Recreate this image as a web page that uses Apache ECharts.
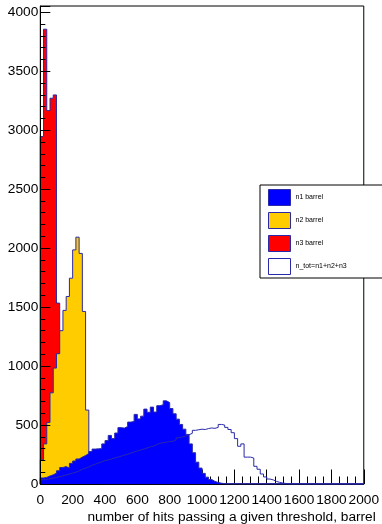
<!DOCTYPE html>
<html>
<head>
<meta charset="utf-8">
<script src="https://cdn.jsdelivr.net/npm/echarts@6/dist/echarts.min.js"></script>
<style>
  html, body { margin: 0; padding: 0; background: #fff; }
  #chart { width: 382px; height: 524px; }
</style>
</head>
<body>
<div id="chart"></div>
<script>
// Histogram binning: 100 bins of width 20 from 0 to 2000
const binWidth = 20;
const xMin = 0;
const xMax = 2000;
const yMax = 4053;

// Bin contents (bins start at 0; bins after the last listed one are empty)
const n1Barrel = [51, 56, 68, 78, 92, 112, 140, 148, 135, 175,
  195, 212, 228, 242, 258, 275, 296, 298, 300, 340,
  368, 412, 385, 432, 478, 474, 488, 525, 530, 590,
  552, 575, 635, 608, 652, 610, 664, 672, 705, 690,
  640, 595, 550, 505, 465, 420, 340, 265, 185, 135,
  90, 58, 38, 22, 13, 7, 3, 1];
const n2Barrel = [206, 340, 522, 773, 983, 1105, 1300, 1472, 1590, 1745,
  1985, 2093, 1955, 1463, 627, 150, 45, 12, 3];
const n3Barrel = [2946, 3856, 3166, 3271, 3299, 1534, 880, 420, 180, 70, 25, 8];
const nTotBarrel = [36, 40, 44, 50, 55, 62, 68, 76, 84, 92,
  100, 110, 125, 135, 145, 158, 168, 178, 188, 198,
  205, 212, 220, 228, 236, 245, 252, 262, 272, 280,
  288, 296, 305, 315, 322, 335, 345, 350, 355, 360,
  362, 375, 392, 400, 405, 418, 430, 455, 460, 465,
  462, 470, 475, 472, 480, 505, 500, 480, 462, 435,
  385, 320, 340, 228, 228, 220, 150, 125, 85, 60,
  42, 35, 22, 14, 8, 4, 2, 1];

// Axis tick labels
const xTickLabels = ['0', '200', '400', '600', '800', '1000', '1200', '1400', '1600', '1800', '2000'];
const yTickLabels = ['0', '500', '1000', '1500', '2000', '2500', '3000', '3500', '4000'];

const seriesNames = ['n1 barrel', 'n2 barrel', 'n3 barrel', 'n_tot=n1+n2+n3'];
const fillColors = ['#0000ff', '#ffcc00', '#ff0000', '#ffffff'];
const outlineColor = '#2a2aa8';
const font = 'Liberation Sans, Arial, Helvetica, sans-serif';
const labelSize = 13.7;

// Turn bin contents into the corner points of a step outline
function histPoints(values) {
  const pts = [[xMin, 0]];
  values.forEach((v, i) => pts.push([xMin + i * binWidth, v]));
  const end = xMin + values.length * binWidth;
  pts.push([end, values[values.length - 1]]);
  pts.push([end, 0]);
  if (end < xMax) pts.push([xMax, 0]);
  return pts;
}

function histSeries(name, values, fill, z) {
  const s = {
    name: name,
    type: 'line',
    step: 'end',
    data: histPoints(values),
    symbol: 'none',
    showSymbol: false,
    z: z,
    lineStyle: { color: outlineColor, width: 1 },
    itemStyle: { color: fill === '#ffffff' ? outlineColor : fill },
    emphasis: { disabled: true },
    silent: true
  };
  if (fill !== '#ffffff') {
    s.areaStyle = { color: fill, opacity: 1 };
  }
  return s;
}

const chart = echarts.init(document.getElementById('chart'), null, { renderer: 'canvas' });

chart.setOption({
  animation: false,
  backgroundColor: '#ffffff',
  grid: {
    left: 40.3, right: 16.3, top: 6, bottom: 39.7,
    show: true, borderColor: '#000', borderWidth: 1, backgroundColor: 'transparent'
  },
  legend: {
    orient: 'vertical',
    left: 260, top: 185,
    padding: [4, 200, 3, 8],
    itemWidth: 22, itemHeight: 16, itemGap: 6,
    backgroundColor: '#ffffff',
    borderColor: '#000', borderWidth: 1,
    selectedMode: false,
    textStyle: { fontSize: 7, fontFamily: font, color: '#000' },
    data: seriesNames.map((n, i) => ({
      name: n,
      icon: 'rect',
      itemStyle: { color: fillColors[i], borderColor: outlineColor, borderWidth: 1 }
    }))
  },
  xAxis: {
    type: 'value', min: xMin, max: xMax, interval: 200,
    z: 0,
    axisLine: { show: true, lineStyle: { color: '#000', width: 1 } },
    axisTick: { show: true, inside: true, length: 14.5, lineStyle: { color: '#000', width: 1 } },
    minorTick: { show: true, splitNumber: 4, length: 7.5, lineStyle: { color: '#000', width: 1 } },
    splitLine: { show: false },
    axisLabel: {
      margin: 9, fontSize: labelSize, fontFamily: font, color: '#000',
      formatter: v => xTickLabels.includes(String(v)) ? String(v) : ''
    },
    name: 'number of hits passing a given threshold, barrel',
    nameLocation: 'end',
    nameGap: 12,
    nameTextStyle: {
      fontSize: labelSize, fontFamily: font, color: '#000',
      align: 'right', verticalAlign: 'top', padding: [26, 0, 0, 0]
    }
  },
  yAxis: {
    type: 'value', min: 0, max: yMax, interval: 500,
    z: 10,
    axisLine: { show: true, lineStyle: { color: '#000', width: 1 } },
    axisTick: { show: true, inside: true, length: 10, lineStyle: { color: '#000', width: 1 } },
    minorTick: { show: true, splitNumber: 5, length: 5, lineStyle: { color: '#000', width: 1 } },
    splitLine: { show: false },
    axisLabel: {
      margin: 2, fontSize: labelSize, fontFamily: font, color: '#000',
      formatter: v => yTickLabels.includes(String(v)) ? String(v) : ''
    }
  },
  series: [
    histSeries(seriesNames[2], n3Barrel, fillColors[2], 2),
    histSeries(seriesNames[1], n2Barrel, fillColors[1], 3),
    histSeries(seriesNames[0], n1Barrel, fillColors[0], 4),
    histSeries(seriesNames[3], nTotBarrel, fillColors[3], 5)
  ]
});
</script>
</body>
</html>
